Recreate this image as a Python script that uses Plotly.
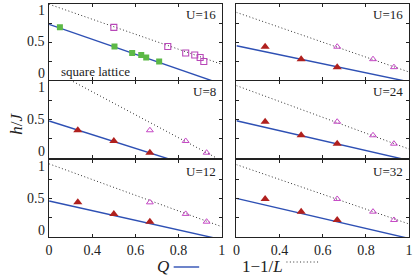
import plotly.graph_objects as go

W, H = 415, 276

# ---------------- data ----------------
# square lattice (U=16): Q values (filled) and 1-1/L values (open), same h
sq_Q = [0.25, 0.503, 0.585, 0.627, 0.65, 0.71]
sq_invL = [0.5, 0.75, 0.833, 0.875, 0.9, 0.917]
sq_h = [0.693, 0.44, 0.356, 0.329, 0.297, 0.244]

# triangular-type panels: Q values and 1-1/L values
tri_Q = [0.333, 0.5, 0.667]
tri_invL = [0.667, 0.833, 0.93]
h_U16 = [0.438, 0.274, 0.169]
h_U8 = [0.36, 0.221, 0.069]
h_U24 = [0.471, 0.295, 0.186]
h_U12 = [0.45, 0.30, 0.199]
h_U32 = [0.494, 0.329, 0.221]

# linear fits evaluated at x = 0.2 and x = 1.0
fit_x = [0.2, 1.0]
fitQ_sq16 = [0.733, -0.054]
fitL_sq16 = [0.997, 0.207]
fitQ_U16 = [0.45, -0.024]
fitL_U16 = [0.89, 0.105]
fitQ_U8 = [0.48, -0.23]
fitL_U8 = [1.159, -0.036]
fitQ_U24 = [0.484, -0.032]
fitL_U24 = [0.94, 0.116]
fitQ_U12 = [0.468, -0.034]
fitL_U12 = [0.95, 0.134]
fitQ_U32 = [0.502, -0.019]
fitL_U32 = [0.94, 0.169]

panel_labels = ["U=16", "U=16", "U=8", "U=24", "U=12", "U=32"]
xtick_vals = [0.2, 0.4, 0.6, 0.8, 1.0]
xtick_text = ["0", "0.4", "0.6", "0.8", "1"]
ytick_vals = [0.25, 0.5, 0.75]
ylabel_text = ["0", "0.5", "1"]
ylabel_pos = [0.08, 0.5, 0.92]

# ---------------- style ----------------
FONT = "Liberation Serif"
AX = "#222222"
BLUE = "#2e50b4"
GREEN = "#5cb946"
MAG_SQ = "#b847b8"
RED = "#b0201e"
MAG_TRI = "#c547c5"

col_px = [(46, 222), (237, 413)]
row_px = [(4, 80), (81, 158), (160, 237)]

panels = [
    dict(kind="sq", Q=sq_Q, L=sq_invL, h=sq_h, fQ=fitQ_sq16, fL=fitL_sq16),
    dict(kind="tri", Q=tri_Q, L=tri_invL, h=h_U16, fQ=fitQ_U16, fL=fitL_U16),
    dict(kind="tri", Q=tri_Q, L=tri_invL, h=h_U8, fQ=fitQ_U8, fL=fitL_U8),
    dict(kind="tri", Q=tri_Q, L=tri_invL, h=h_U24, fQ=fitQ_U24, fL=fitL_U24),
    dict(kind="tri", Q=tri_Q, L=tri_invL, h=h_U12, fQ=fitQ_U12, fL=fitL_U12),
    dict(kind="tri", Q=tri_Q, L=tri_invL, h=h_U32, fQ=fitQ_U32, fL=fitL_U32),
]

fig = go.Figure()
layout = {}
annotations = []

for i, p in enumerate(panels):
    n = i + 1
    r, c = i // 2, i % 2
    xa = "x" if n == 1 else f"x{n}"
    ya = "y" if n == 1 else f"y{n}"
    sfx = "" if n == 1 else str(n)

    # dotted fit vs 1-1/L
    fig.add_trace(go.Scatter(x=fit_x, y=p["fL"], mode="lines",
                             line=dict(color="#333333", width=1, dash="1px,2.4px"),
                             xaxis=xa, yaxis=ya, showlegend=False, hoverinfo="skip"))
    # solid fit vs Q
    fig.add_trace(go.Scatter(x=fit_x, y=p["fQ"], mode="lines",
                             line=dict(color=BLUE, width=1.4),
                             xaxis=xa, yaxis=ya, showlegend=False, hoverinfo="skip"))
    if p["kind"] == "sq":
        fig.add_trace(go.Scatter(x=p["Q"], y=p["h"], mode="markers",
                                 marker=dict(symbol="square", size=6, color=GREEN,
                                             line=dict(width=0)),
                                 xaxis=xa, yaxis=ya, showlegend=False))
        fig.add_trace(go.Scatter(x=p["L"], y=p["h"], mode="markers",
                                 marker=dict(symbol="square-open", size=6, color=MAG_SQ,
                                             line=dict(width=1.1)),
                                 xaxis=xa, yaxis=ya, showlegend=False))
    else:
        fig.add_trace(go.Scatter(x=p["Q"], y=p["h"], mode="markers",
                                 marker=dict(symbol="triangle-up", size=8, color=RED,
                                             line=dict(width=0)),
                                 xaxis=xa, yaxis=ya, showlegend=False))
        fig.add_trace(go.Scatter(x=p["L"], y=p["h"], mode="markers",
                                 marker=dict(symbol="triangle-up-open", size=6, color=MAG_TRI,
                                             line=dict(width=1)),
                                 xaxis=xa, yaxis=ya, showlegend=False))

    x0, x1 = col_px[c]
    y0, y1 = row_px[r]
    layout["xaxis" + sfx] = dict(
        domain=[x0 / W, x1 / W], range=[0.2, 1.0], anchor=ya,
        tickvals=xtick_vals, ticktext=xtick_text, showticklabels=(r == 2),
        ticks="inside", ticklen=3, tickwidth=1, tickcolor=AX,
        showline=True, linecolor=AX, linewidth=1, mirror="ticks",
        showgrid=False, zeroline=False,
        tickfont=dict(family=FONT, size=14, color=AX),
    )
    layout["yaxis" + sfx] = dict(
        domain=[1 - y1 / H, 1 - y0 / H], range=[0, 1], anchor=xa,
        tickvals=ytick_vals, showticklabels=False,
        ticks="inside", ticklen=3, tickwidth=1, tickcolor=AX,
        showline=True, linecolor=AX, linewidth=1, mirror="ticks",
        showgrid=False, zeroline=False,
    )

    # panel label
    annotations.append(dict(text=panel_labels[i], xref=f"{xa} domain", yref=f"{ya} domain",
                            x=1, y=1, xanchor="right", yanchor="middle",
                            xshift=-4, yshift=-11, showarrow=False,
                            font=dict(family=FONT, size=13, color=AX)))
    if c == 0:
        for t, yp in zip(ylabel_text, ylabel_pos):
            annotations.append(dict(text=t, xref=f"{xa} domain", yref=ya,
                                    x=0, y=yp, xanchor="right", yanchor="middle",
                                    xshift=-2, showarrow=False,
                                    font=dict(family=FONT, size=14, color=AX)))
    if n == 1:
        annotations.append(dict(text="square lattice", xref=f"{xa} domain", yref=f"{ya} domain",
                                x=0, y=0, xanchor="left", yanchor="middle",
                                xshift=10, yshift=8, showarrow=False,
                                font=dict(family=FONT, size=13, color=AX)))

# axis titles
annotations.append(dict(text="<i>h</i>/<i>J</i>", xref="paper", yref="paper",
                        x=12 / W, y=1 - 124 / H, textangle=-90, showarrow=False,
                        xanchor="center", yanchor="middle",
                        font=dict(family=FONT, size=17, color=AX)))
annotations.append(dict(text="<i>Q</i>", xref="paper", yref="paper",
                        x=162 / W, y=1 - 266 / H, showarrow=False,
                        xanchor="center", yanchor="middle",
                        font=dict(family=FONT, size=17, color=AX)))
annotations.append(dict(text="1\u22121/<i>L</i>", xref="paper", yref="paper",
                        x=264 / W, y=1 - 266 / H, showarrow=False,
                        xanchor="center", yanchor="middle",
                        font=dict(family=FONT, size=17, color=AX)))

shapes = [
    dict(type="line", xref="paper", yref="paper", x0=173 / W, x1=199 / W,
         y0=1 - 267 / H, y1=1 - 267 / H, line=dict(color=BLUE, width=1.4)),
    dict(type="line", xref="paper", yref="paper", x0=288 / W, x1=322 / W,
         y0=1 - 262 / H, y1=1 - 262 / H, line=dict(color="#333333", width=1, dash="1px,2.4px")),
]

fig.update_layout(**layout)
fig.update_layout(
    width=W, height=H, margin=dict(l=0, r=0, t=0, b=0),
    paper_bgcolor="white", plot_bgcolor="white",
    annotations=annotations, shapes=shapes, showlegend=False,
    font=dict(family=FONT, color=AX),
)

fig.write_html(
    "out.html",
    config={"displayModeBar": False},
    post_script="document.body.style.margin='0';document.body.style.padding='0';"
                "document.documentElement.style.overflow='hidden';",
)
